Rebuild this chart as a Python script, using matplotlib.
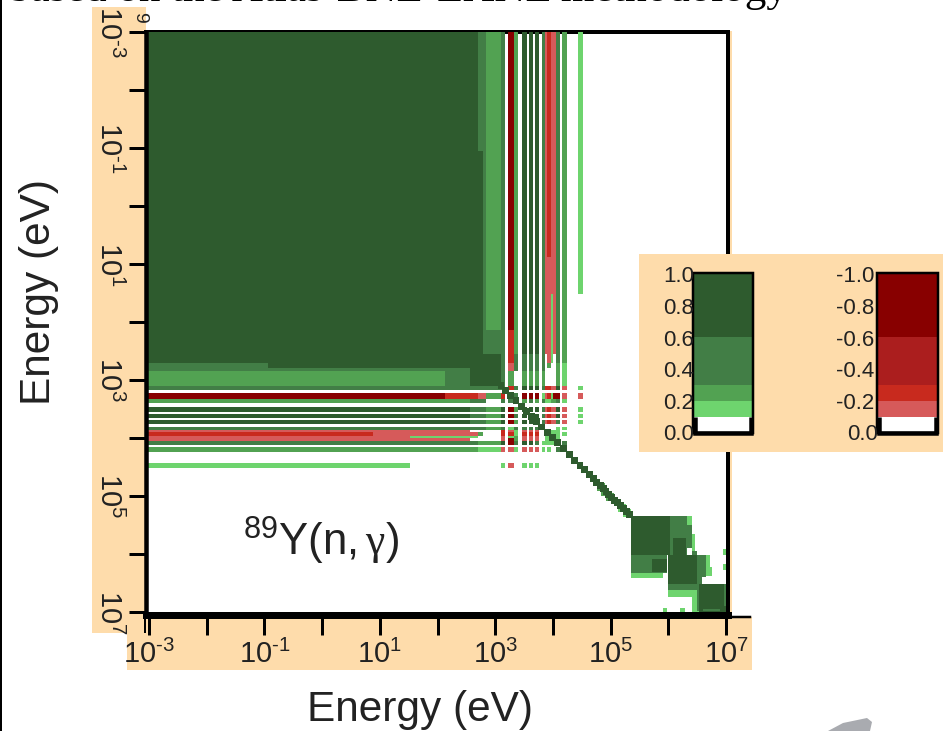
import numpy as np
import matplotlib
matplotlib.use("Agg")
import matplotlib.pyplot as plt
from matplotlib.colors import ListedColormap, BoundaryNorm
from matplotlib.patches import Rectangle, Polygon
from matplotlib.lines import Line2D

plt.rcParams['font.family'] = ['Liberation Sans', 'DejaVu Sans']
plt.rcParams['mathtext.fontset'] = 'custom'
plt.rcParams['mathtext.rm'] = 'Liberation Sans'
plt.rcParams['mathtext.it'] = 'Liberation Serif'

# ---- data ----
group_edges_log = [-3.06, -0.94, 0.88, 1.52, 2.13, 2.56, 2.70, 2.79, 2.84, 3.10, 3.17, 3.22, 3.33, 3.40,
                   3.46, 3.55, 3.59, 3.66, 3.69, 3.76, 3.81, 3.86, 3.90, 3.97, 4.00, 4.05, 4.12, 4.16,
                   4.24, 4.43, 4.52, 7.04]
# lower triangle of the correlation matrix, one letter per group pair
corr_rows = [
    "d", "dd", "ddd", "dddd", "ddddd", "dddddd", "cdddddd", "cccccddd", "bbbbcdddd",
    "ccccccccc" + "c",
    "...........",
    "DDDDBBAAb" + "B.D",
    "bbbbbccc." + "c.cc",
    "..............",
    "dddddcccb" + "d.Db.d",
    "................",
    "dddddcccb" + "d.Dc.d.d",
    "..................",
    "dddddcccb" + "d.Db.d.d.d",
    "....................",
    "ccccccccb" + "c.ac.c.c.c.c",
    "AAAAA...." + "B.Aa.A.A.A..A",
    "BBAAAAb.." + "B.Ba.B.B.B..AB",
    "AAAaaa..." + "A.ab.A.A.A..aac",
    "AAAAA...." + "A.Db.A.A.A..aaaA",
    "ccccccbbb" + "d.Dc.d.d.c.aaaaad",
    "...........................",
    "bbbbbbaaa" + "A.Aa.A.A.A.a.a..c.d",
    ".............................",
    "aaa......" + "a.A..a.a.a" + ".........." + "a",
    "...............................",
]
level_values = {'.': 0.0, 'a': 0.15, 'b': 0.25, 'c': 0.45, 'd': 0.8,
                'A': -0.15, 'B': -0.25, 'C': -0.45, 'D': -0.8}
# diagonal cells: log10(E) centre
diag_centres = [3.10, 3.18, 3.27, 3.36, 3.45, 3.54, 3.63, 3.72, 3.81, 3.90, 3.99, 4.08, 4.18, 4.28, 4.38, 4.47, 4.55,
                4.63, 4.70, 4.76, 4.82, 4.87, 4.92, 4.97, 5.02, 5.07, 5.12, 5.17, 5.22, 5.27, 5.32]
diag_half_width = 0.06
# fast-energy blocks: x0, x1, y0, y1 in log10(E), level
fast_blocks = [
    (4.76, 4.90, 4.78, 4.92, 'b'), (4.84, 4.98, 4.86, 5.00, 'b'), (4.92, 5.06, 4.94, 5.08, 'b'),
    (5.13, 5.27, 5.13, 5.27, 'a'), (5.22, 5.36, 5.22, 5.36, 'a'),
    (5.35, 5.90, 6.31, 6.41, 'a'), (6.25, 6.41, 5.35, 5.76, 'a'),
    (6.41, 6.46, 5.65, 6.00, 'a'), (6.46, 6.72, 6.02, 6.36, 'a'), (6.55, 6.76, 6.22, 6.38, 'a'),
    (6.00, 6.41, 6.52, 6.74, 'a'), (6.41, 6.55, 6.45, 7.00, 'a'),
    (5.35, 5.98, 6.02, 6.33, 'c'), (6.03, 6.32, 5.35, 6.02, 'c'), (6.31, 6.41, 5.50, 5.90, 'c'),
    (6.41, 6.50, 5.95, 6.05, 'c'), (6.50, 6.65, 6.02, 6.40, 'c'), (6.00, 6.45, 6.52, 6.62, 'c'),
    (6.41, 6.58, 6.30, 6.62, 'c'), (6.50, 6.56, 6.62, 6.98, 'c'),
    (5.35, 6.03, 5.35, 6.02, 'd'), (5.72, 5.98, 6.09, 6.31, 'd'), (6.00, 6.50, 6.02, 6.52, 'd'),
    (6.08, 6.31, 5.73, 6.02, 'd'), (6.53, 7.02, 6.52, 7.00, 'd'),
    (6.97, 7.02, 6.52, 6.90, 'c'), (6.60, 6.90, 6.94, 6.98, 'c'),
    (6.94, 7.02, 5.92, 6.01, 'a'), (6.94, 7.02, 6.18, 6.27, 'a'),
    (5.90, 5.98, 6.93, 7.00, 'a'), (6.20, 6.29, 6.93, 7.00, 'a'),
]
tick_exponents = list(range(-3, 8))
labelled_exponents = [-3, -1, 1, 3, 5, 7]
pos_bar_levels = [0.0, 0.1, 0.2, 0.3, 0.6, 1.0]
neg_bar_levels = [0.0, -0.1, -0.2, -0.3, -0.6, -1.0]
pos_bar_ticks = [0.0, 0.2, 0.4, 0.6, 0.8, 1.0]
neg_bar_ticks = [0.0, -0.2, -0.4, -0.6, -0.8, -1.0]

boundaries = [-1.0, -0.6, -0.3, -0.2, -0.1, 0.1, 0.2, 0.3, 0.6, 1.0]
colors = ['#880000', '#AB1E1E', '#C82A1E', '#D65A5A', '#FFFFFF', '#6ED46E', '#52A252', '#427E46', '#2E5B2E']
cmap = ListedColormap(colors)
norm = BoundaryNorm(boundaries, cmap.N)
ORANGE = '#FEDCAB'
TEXT = '#222222'

# ---- layout ----
W, H = 943, 731
fig = plt.figure(figsize=(W / 100, H / 100), dpi=100, facecolor='white')
px = 0.72  # points per pixel


def fx(x):
    return x / W


def fy(y):
    return 1 - y / H


def box(x0, y0, x1, y1, color, z):
    fig.add_artist(Rectangle((fx(x0), fy(y1)), (x1 - x0) / W, (y1 - y0) / H, transform=fig.transFigure,
                             fc=color, ec='none', zorder=z))


def axes_px(x0, y0, x1, y1, z):
    return fig.add_axes([fx(x0), fy(y1), (x1 - x0) / W, (y1 - y0) / H], zorder=z)


box(92, 7, 146, 632.5, ORANGE, -2)
box(127, 617, 752, 669.5, ORANGE, -2)
box(730, 31, 731.5, 617, ORANGE, -2)
box(0, 0, 2, 731, 'black', 4)

# ---- main matrix ----
ax = axes_px(145.5, 32, 728, 614.5, 1)
ax.set_xscale('log')
ax.set_yscale('log')
n = len(group_edges_log) - 1
Z = np.zeros((n, n))
for i, row in enumerate(corr_rows):
    for j, ch in enumerate(row):
        Z[i, j] = level_values[ch]
        Z[j, i] = level_values[ch]
edges = 10.0 ** np.array(group_edges_log)
ax.pcolormesh(edges, edges, np.ma.masked_equal(Z, 0.0), cmap=cmap, norm=norm, shading='flat',
              antialiased=False, linewidth=0, zorder=1)


def cell(x0, x1, y0, y1, code, z):
    ax.add_patch(Rectangle((10 ** x0, 10 ** y0), 10 ** x1 - 10 ** x0, 10 ** y1 - 10 ** y0,
                           fc=cmap(norm(level_values[code])), ec='none', zorder=z))


for b in fast_blocks:
    cell(*b, 2)
for c in diag_centres:
    cell(c - diag_half_width, c + diag_half_width, c - diag_half_width, c + diag_half_width, 'd', 3)

ax.set_xlim(10 ** -3.061, 10 ** 7.035)
ax.set_ylim(10 ** 7.043, 10 ** -2.983)
ticks = [10.0 ** k for k in tick_exponents]
xlabels = [r'$\mathregular{10^{\text{%d}}}$' % k if k in labelled_exponents else '' for k in tick_exponents]
ax.set_xticks(ticks, xlabels)
ax.set_yticks(ticks, xlabels)
ax.minorticks_off()
ax.tick_params(axis='x', which='major', length=19.5 * px, width=3 * px, color='black',
               labelsize=21, labelcolor=TEXT, pad=6 * px)
ax.tick_params(axis='y', which='major', length=17.5 * px, width=3 * px, color='black',
               labelsize=21, labelcolor=TEXT, pad=5 * px)
for t in ax.get_yticklabels():
    t.set_rotation(-90)
    t.set_va('center')
for s, w, z in (('top', 4, 0.5), ('left', 4.5, 5), ('right', 4, 5), ('bottom', 7, 5)):
    ax.spines[s].set_linewidth(w * px)
    ax.spines[s].set_color('black')
    ax.spines[s].set_zorder(z)

# bottom-axis overrun and double tick at the corner
fig.add_artist(Line2D([fx(728), fx(750)], [fy(617), fy(617)], color='black', lw=2.5 * px, zorder=3))
fig.add_artist(Line2D([fx(144.5), fx(144.5)], [fy(618), fy(632)], color='black', lw=2 * px, zorder=3))

# ---- texts ----
fig.text(fx(9), fy(1), 'based on the Atlas-BNL-LANL methodology', family='Liberation Serif', fontsize=31,
         color='black', va='baseline', ha='left')
fig.text(fx(420), fy(710), 'Energy (eV)', fontsize=30.5, color=TEXT, ha='center', va='center')
fig.text(fx(39), fy(292), 'Energy (eV)', fontsize=30.5, color=TEXT, ha='center', va='center', rotation=90)
fig.text(fx(243), fy(556), r'$\mathregular{^{89}Y(n,}\gamma\mathregular{)}$', fontsize=31.5, color=TEXT,
         ha='left', va='baseline')
fig.text(fx(140), fy(17), '9', fontsize=14, color=TEXT, rotation=-90, ha='center', va='center', zorder=-1)

# ---- grey swoosh ----
fig.add_artist(Polygon([(fx(828), fy(731)), (fx(843), fy(723)), (fx(867), fy(718)), (fx(872), fy(722)), (fx(870), fy(731))],
                       closed=True, transform=fig.transFigure, fc='#A9ABB0', ec='none', zorder=2))

# ---- colour key ----
box(639, 254, 943, 452, ORANGE, 5)


def key(x0, x1, levels, tick_vals, label_right):
    k = axes_px(x0, 273, x1, 433, 6)
    lo = np.array(levels[:-1])
    hi = np.array(levels[1:])
    k.pcolormesh([0, 1], levels, ((lo + hi) / 2)[:, None], cmap=cmap, norm=norm, shading='flat', antialiased=False)
    k.set_xlim(0, 1)
    k.set_ylim(levels[0], levels[-1])
    k.axis('off')
    k.add_patch(Rectangle((0, levels[0]), 1, levels[-1] - levels[0], fc='none', ec='black', lw=2.5 * px, zorder=4, clip_on=False))
    k.add_line(Line2D([0.03, 0.03, 0.97, 0.97], [levels[1], levels[0], levels[0], levels[1]], color='black', lw=4.5 * px,
                      zorder=5, clip_on=False, solid_joinstyle='miter', solid_capstyle='butt'))
    for v in tick_vals:
        y = 435 - 158 * abs(v)
        xr = label_right + 4 if (v == 0 and label_right > 800) else label_right
        fig.text(fx(xr), fy(y), '%.1f' % v, fontsize=16, color=TEXT, ha='right', va='center', zorder=7)


key(693, 753, pos_bar_levels, pos_bar_ticks, 694)
key(877, 938, neg_bar_levels, neg_bar_ticks, 874)

fig.savefig('out.png', dpi=100)
